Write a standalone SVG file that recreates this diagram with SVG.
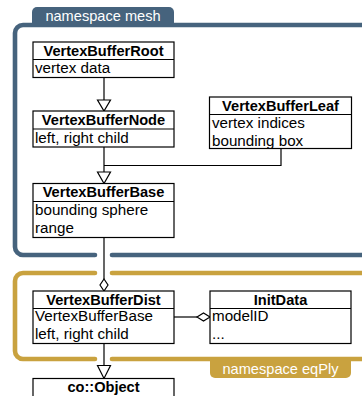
<svg xmlns="http://www.w3.org/2000/svg" width="362" height="396" viewBox="0 0 362 396">
<style>
.frame{fill:none;stroke-width:4.6;stroke-linecap:round;stroke-linejoin:round}
.mesh{stroke:#46637d}
.eq{stroke:#c9a23f}
.tabtxt{font-family:"Liberation Sans",Arial,sans-serif;font-size:14.6px;fill:#ffffff;text-anchor:middle}
.box{fill:#ffffff;stroke:#000000;stroke-width:1.2}
.div{stroke:#000000;stroke-width:1.2}
.title{font-family:"Liberation Sans",Arial,sans-serif;font-size:14.6px;font-weight:bold;fill:#000000;text-anchor:middle}
.body{font-family:"Liberation Sans",Arial,sans-serif;font-size:15.2px;fill:#000000}
.conn{fill:none;stroke:#000000;stroke-width:1.2}
.head{fill:#ffffff;stroke:#000000;stroke-width:1.2;stroke-linejoin:miter}
</style>
<g id="ns-mesh">
<path class="frame mesh" d="M95,255 H23 A8,8 0 0 1 15,247 V33 A8,8 0 0 1 23,25 H372"/>
<path class="frame mesh" d="M112,255 H372"/>
<path d="M32,25 V12 A5,5 0 0 1 37,7 H169 A5,5 0 0 1 174,12 V25 Z" fill="#46637d"/>
<text class="tabtxt" x="103" y="21">namespace mesh</text>
</g>
<g id="ns-eqply">
<path class="frame eq" d="M95,273 H23 A8,8 0 0 0 15,281 V351 A8,8 0 0 0 23,359 H95"/>
<path class="frame eq" d="M112,273 H372"/>
<path class="frame eq" d="M112,359 H372"/>
<path d="M210,359 V373 A5,5 0 0 0 215,378 H346 A5,5 0 0 0 351,373 V359 Z" fill="#c9a23f"/>
<text class="tabtxt" x="280.5" y="374">namespace eqPly</text>
</g>
<g id="connectors">
<path class="conn" d="M104,77.5 V100"/>
<path class="head" d="M97.5,100 H110.5 L104,111 Z"/>
<path class="conn" d="M104,147 V172"/>
<path class="conn" d="M281,148.5 V165.5 H104"/>
<path class="head" d="M97.5,172 H110.5 L104,183.5 Z"/>
<path class="conn" d="M104,237.5 V279"/>
<path class="head" d="M104,279 L108,285 L104,291 L100,285 Z"/>
<path class="conn" d="M174,317 H197"/>
<path class="head" d="M197,317 L203.5,313 L210,317 L203.5,321 Z"/>
<path class="conn" d="M104,343.5 V365.5"/>
<path class="head" d="M97.5,365.5 H110.5 L104,378.5 Z"/>
</g>
<g id="VertexBufferRoot">
<rect class="box" x="33" y="42" width="141" height="35.5"/>
<line class="div" x1="33" y1="59.5" x2="174" y2="59.5"/>
<text class="title" x="103.5" y="55.5">VertexBufferRoot</text>
<text class="body" x="35" y="73">vertex data</text>
</g>
<g id="VertexBufferNode">
<rect class="box" x="33" y="111" width="141" height="36"/>
<line class="div" x1="33" y1="129" x2="174" y2="129"/>
<text class="title" x="103.5" y="124.5">VertexBufferNode</text>
<text class="body" x="35" y="142.5">left, right child</text>
</g>
<g id="VertexBufferLeaf">
<rect class="box" x="209.5" y="97" width="142" height="51.5"/>
<line class="div" x1="209.5" y1="114.5" x2="351.5" y2="114.5"/>
<text class="title" x="280.5" y="110.5">VertexBufferLeaf</text>
<text class="body" x="212" y="128">vertex indices</text>
<text class="body" x="212" y="145.5">bounding box</text>
</g>
<g id="VertexBufferBase">
<rect class="box" x="33" y="183.5" width="141" height="54"/>
<line class="div" x1="33" y1="201.5" x2="174" y2="201.5"/>
<text class="title" x="103.5" y="197">VertexBufferBase</text>
<text class="body" x="35" y="215">bounding sphere</text>
<text class="body" x="35" y="232.5">range</text>
</g>
<g id="VertexBufferDist">
<rect class="box" x="33" y="291" width="141" height="52.5"/>
<line class="div" x1="33" y1="308.5" x2="174" y2="308.5"/>
<text class="title" x="103.5" y="304.5">VertexBufferDist</text>
<text class="body" x="35" y="321">VertexBufferBase</text>
<text class="body" x="35" y="338.5">left, right child</text>
</g>
<g id="InitData">
<rect class="box" x="210" y="291" width="141" height="52.5"/>
<line class="div" x1="210" y1="308.5" x2="351" y2="308.5"/>
<text class="title" x="280.5" y="304.5">InitData</text>
<text class="body" x="212" y="321">modelID</text>
<text class="body" x="212" y="338.5">...</text>
</g>
<g id="co-Object">
<rect class="box" x="33" y="378.5" width="141" height="30"/>
<text class="title" x="103.5" y="392">co::Object</text>
</g>
</svg>
